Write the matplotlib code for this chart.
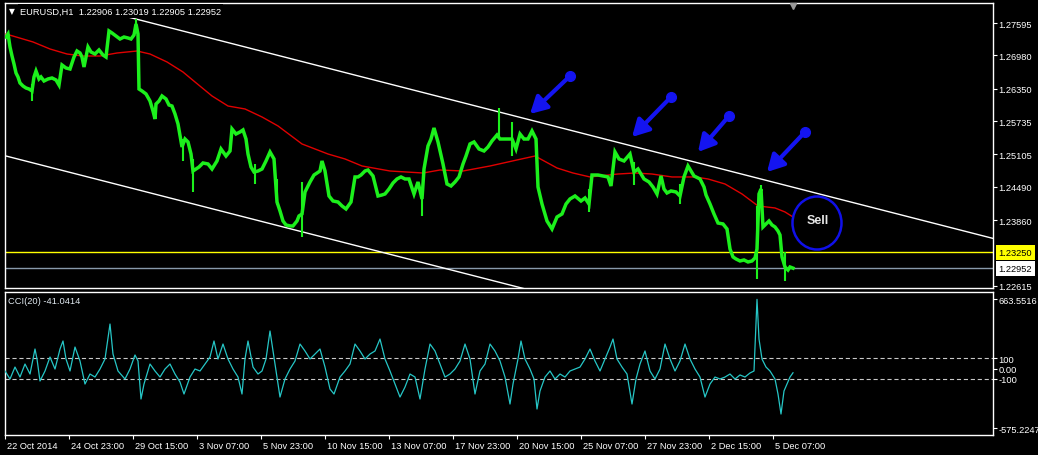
import matplotlib
matplotlib.use('Agg')
import matplotlib.pyplot as plt
from matplotlib.patches import Ellipse, FancyArrowPatch
from matplotlib.transforms import ScaledTranslation, blended_transform_factory

plt.rcParams['font.family'] = ['Liberation Sans', 'DejaVu Sans']
plt.rcParams['lines.scale_dashes'] = False

# ---------------- data ----------------
symbol_title = "EURUSD,H1  1.22906 1.23019 1.22905 1.22952"
cci_title = "CCI(20) -41.0414"

price_hours = [6, 8, 10, 12, 14, 16, 18, 20, 23, 26, 29, 32, 34, 36, 39, 41, 44, 48, 52, 56,
               59, 62, 66, 70, 74, 77, 80, 82, 84, 86, 88, 91, 95, 99, 103, 106, 109, 112, 116, 120,
               124, 128, 131, 134, 136, 138, 139, 142, 146, 150, 153, 155, 156, 159, 162, 166, 169, 172, 175, 178,
               182, 185, 188, 191, 193, 196, 199, 203, 208, 212, 217, 221, 226, 230, 232, 236, 240, 243, 246, 248,
               251, 254, 258, 262, 266, 270, 274, 277, 280, 283, 286, 290, 293, 297, 299, 302, 305, 310, 314, 317,
               320, 322, 325, 329, 333, 338, 342, 346, 351, 355, 358, 361, 365, 368, 373, 378, 382, 385, 389, 393,
               397, 401, 405, 409, 414, 418, 422, 424, 428, 431, 434, 438, 443, 447, 451, 455, 459, 463, 466, 470,
               474, 479, 484, 488, 492, 497, 500, 504, 508, 512, 516, 520, 524, 528, 532, 536, 538, 542, 547, 552,
               557, 562, 566, 570, 575, 581, 585, 589, 592, 598, 603, 608, 611, 615, 619, 624, 630, 634, 638, 644,
               649, 653, 657, 661, 664, 667, 671, 676, 680, 684, 688, 691, 694, 700, 704, 706, 710, 714, 718, 723,
               727, 730, 733, 736, 740, 744, 748, 752, 755, 757, 759, 761, 763, 766, 769, 772, 775, 778, 780, 782,
               785, 788, 790, 793]
price_close = [1.27330, 1.27387, 1.27141, 1.26970, 1.26819, 1.26648, 1.26573, 1.26459, 1.26402, 1.26364,
               1.26345, 1.26308, 1.26573, 1.26686, 1.26535, 1.26573, 1.26497, 1.26535, 1.26554, 1.26516,
               1.26421, 1.26800, 1.26743, 1.26724, 1.26951, 1.27065, 1.27027, 1.26951, 1.26762, 1.26951,
               1.27141, 1.27046, 1.27008, 1.27084, 1.26989, 1.26951, 1.27444, 1.27406, 1.27349, 1.27292,
               1.27330, 1.27311, 1.27292, 1.27368, 1.27577, 1.27387, 1.26345, 1.26308, 1.26251, 1.26118,
               1.25929, 1.25777, 1.26061, 1.26118, 1.26213, 1.26156, 1.26042, 1.26023, 1.25872, 1.25683,
               1.25247, 1.25398, 1.25342, 1.25114, 1.24792, 1.24830, 1.24868, 1.24944, 1.24925, 1.24830,
               1.24982, 1.25209, 1.25076, 1.25171, 1.25588, 1.25493, 1.25531, 1.25569, 1.25398, 1.25114,
               1.24868, 1.24773, 1.24792, 1.24830, 1.24982, 1.25152, 1.25020, 1.24205, 1.24035, 1.23845,
               1.23770, 1.23751, 1.23751, 1.23845, 1.23940, 1.23978, 1.24395, 1.24584, 1.24716, 1.24754,
               1.24792, 1.24982, 1.24792, 1.24319, 1.24224, 1.24205, 1.24130, 1.24073, 1.24205, 1.24679,
               1.24679, 1.24716, 1.24792, 1.24811, 1.24698, 1.24319, 1.24338, 1.24357, 1.24451, 1.24565,
               1.24641, 1.24679, 1.24641, 1.24641, 1.24357, 1.24584, 1.24262, 1.24830, 1.25266, 1.25398,
               1.25607, 1.25342, 1.24925, 1.24546, 1.24508, 1.24584, 1.24679, 1.24925, 1.25076, 1.25304,
               1.25342, 1.25209, 1.25171, 1.25247, 1.25361, 1.25474, 1.25398, 1.25398, 1.25398, 1.25398,
               1.25209, 1.25493, 1.25398, 1.25398, 1.25550, 1.25398, 1.24489, 1.24167, 1.23845, 1.23694,
               1.23921, 1.23978, 1.24167, 1.24262, 1.24319, 1.24224, 1.24281, 1.24167, 1.24716, 1.24716,
               1.24698, 1.24679, 1.24508, 1.25152, 1.25020, 1.24982, 1.25114, 1.24773, 1.24830, 1.24641,
               1.24584, 1.24489, 1.24357, 1.24698, 1.24451, 1.24376, 1.24414, 1.24395, 1.24319, 1.24679,
               1.24887, 1.24792, 1.24698, 1.24641, 1.24489, 1.24338, 1.24167, 1.23978, 1.23807, 1.23789,
               1.23694, 1.23315, 1.23164, 1.23126, 1.23088, 1.23107, 1.23069, 1.23088, 1.23145, 1.23315,
               1.24357, 1.24451, 1.23732, 1.23789, 1.23845, 1.23770, 1.23732, 1.23656, 1.23580, 1.23164,
               1.22974, 1.22917, 1.22974, 1.22952]

wick_hours = [32, 136, 183, 193, 255, 277, 302, 422, 499, 512, 589, 634, 680, 757, 761, 785]
wick_high = [1.26440, 1.27671, 1.25398, 1.25020, 1.24925, 1.24641, 1.24584, 1.24451, 1.25986, 1.25720,
             1.24451, 1.24963, 1.24546, 1.24130, 1.24527, 1.23258]
wick_low = [1.26118, 1.27444, 1.24982, 1.24395, 1.24546, 1.24148, 1.23542, 1.23940, 1.25398, 1.25076,
            1.24016, 1.24527, 1.24167, 1.22747, 1.24262, 1.22709]

ma_hours = [6, 33, 50, 67, 83, 100, 117, 137, 150, 167, 183, 195, 212, 228, 245, 262, 278, 302, 328, 345,
            362, 390, 423, 440, 463, 490, 517, 535, 557, 573, 590, 618, 635, 652, 672, 695, 708, 725, 742, 758,
            775, 785, 793]
ma_values = [1.27387, 1.27236, 1.27103, 1.27008, 1.26970, 1.26970, 1.27027, 1.27065, 1.27008, 1.26857,
             1.26667, 1.26478, 1.26213, 1.26023, 1.25967, 1.25815, 1.25645, 1.25304, 1.25114, 1.25020,
             1.24887, 1.24792, 1.24754, 1.24811, 1.24792, 1.24887, 1.25001, 1.25076, 1.24849, 1.24754,
             1.24679, 1.24735, 1.24754, 1.24735, 1.24679, 1.24679, 1.24641, 1.24546, 1.24357, 1.24130,
             1.24092, 1.24016, 1.23921]

cci_hours = [5, 10, 15, 20, 25, 30, 35, 37, 40, 45, 50, 55, 60, 63, 66, 70, 75, 80, 85, 90,
             95, 100, 105, 110, 113, 118, 125, 130, 135, 138, 141, 144, 150, 155, 160, 165, 170, 175, 180, 184,
             190, 195, 200, 205, 210, 214, 218, 223, 228, 233, 238, 242, 245, 248, 253, 258, 262, 266, 270, 275,
             280, 285, 290, 295, 300, 305, 310, 315, 320, 325, 330, 334, 340, 345, 350, 355, 360, 365, 370, 375,
             380, 385, 390, 395, 400, 405, 410, 415, 420, 425, 430, 435, 440, 445, 450, 455, 460, 465, 470, 475,
             480, 485, 490, 495, 500, 505, 510, 513, 518, 521, 525, 530, 534, 537, 540, 545, 550, 555, 560, 565,
             570, 575, 580, 585, 590, 595, 600, 605, 610, 613, 617, 622, 627, 632, 636, 640, 645, 650, 655, 660,
             665, 670, 675, 680, 685, 690, 695, 700, 705, 710, 715, 720, 725, 730, 735, 740, 745, 750, 754, 757,
             759, 762, 766, 770, 775, 778, 781, 784, 787, 790, 793]
cci_values = [-24, -101, 14, -82, 43, -53, 187, 91, -120, -24, 110, -5, 187, 264, 91, -24, 206, 72, -149, -53,
              -82, -5, 91, 427, 139, -24, -101, -5, 130, 72, -293, -149, 43, -24, -82, -5, 43, -53, -130, -245,
              -82, -5, -24, 43, 110, 264, 91, 235, 91, -5, -82, -245, 91, 264, 14, -53, -24, 91, 360, 43,
              -274, -101, -5, 72, 235, 168, 91, 139, 187, 14, -197, -245, -82, -24, 43, 235, 168, 91, 139, 168,
              283, 91, -24, -149, -274, -178, -53, -82, -293, -5, 235, 168, 43, -82, -53, -5, 72, 235, 91, -245,
              -24, 43, 235, 168, 72, -82, -341, -149, 91, 264, 91, -5, -101, -389, -216, -82, -24, -101, -53, -82,
              -24, -5, 14, 91, 187, 72, -24, 91, 206, 283, 91, 14, -53, -341, -101, 43, 168, -24, -101, -5,
              235, 91, -24, 72, 235, 91, -5, -82, -274, -149, -82, -101, -82, -53, -101, -62, -82, -43, -24, 663.55,
              283, 91, 14, -24, -101, -245, -437, -216, -149, -82, -41.04]

time_ticks = [5, 69, 133, 197, 261, 325, 389, 453, 517, 581, 645, 709, 773]
time_labels = ["22 Oct 2014", "24 Oct 23:00", "29 Oct 15:00", "3 Nov 07:00", "5 Nov 23:00",
               "10 Nov 15:00", "13 Nov 07:00", "17 Nov 23:00", "20 Nov 15:00", "25 Nov 07:00",
               "27 Nov 23:00", "2 Dec 15:00", "5 Dec 07:00"]
price_ticks = [1.27595, 1.26980, 1.26350, 1.25735, 1.25105, 1.24490, 1.23860, 1.22615]
cci_ticks = [663.5516, 100, 0, -100, -575.2247]
cci_tick_labels = ["663.5516", "100", "0.00", "-100", "-575.2247"]
cci_levels = [100, -100]

level_price = 1.23250
bid_price = 1.22952

# channel trend lines: anchor points (hour, price)
upper_anchor = [(128, 1.27709), (800, 1.24451)]
lower_anchor = (6, 1.25076)

# arrows (tail hour, tail price, tip hour, tip price)
arrows = [(570, 1.26592, 530, 1.25872),
          (671, 1.26194, 632, 1.25436),
          (729, 1.25834, 698, 1.25152),
          (805, 1.25531, 767, 1.24773)]
sell_center = (817, 1.23807)
sell_size = (49, 0.01004)

# ---------------- figure ----------------
W, H = 1038, 456
fig = plt.figure(figsize=(W / 100, H / 100), dpi=100, facecolor='black')


def rect(l, t, r, b):
    return [l / W, 1 - b / H, (r - l) / W, (b - t) / H]


ax = fig.add_axes(rect(5, 4, 993, 289))
ax2 = fig.add_axes(rect(5, 293, 993, 436))

FS = 6.7
XMIN, XMAX = 5, 993
for a in (ax, ax2):
    a.set_facecolor('black')
    for s in a.spines.values():
        s.set_color('white')
        s.set_linewidth(1)
    a.set_xlim(XMIN, XMAX)
    a.yaxis.tick_right()
    a.tick_params(axis='y', colors='white', labelcolor='white', length=3, width=0.8,
                  pad=1.0, labelsize=FS, direction='out')

ax.set_ylim(1.22576, 1.27974)
ax2.set_ylim(-638.4, 734.4)

# price main panel
ax.set_xticks([])
ax.set_yticks(price_ticks)
ax.set_yticklabels([f"{p:.5f}" for p in price_ticks])

green = '#1cf01c'
ax.plot(price_hours, price_close, color=green, lw=2.5, solid_joinstyle='miter', zorder=4)
ax.vlines(wick_hours, wick_low, wick_high, color=green, lw=1.5, zorder=4)
ax.plot(ma_hours, ma_values, color='#e00000', lw=1.0, zorder=3)

# horizontal lines
ax.axhline(level_price, color='#ffff00', lw=1.0, zorder=2)
ax.axhline(bid_price, color='#8899aa', lw=1.0, zorder=2)

# channel
(x1, y1), (x2, y2) = upper_anchor
slope = (y2 - y1) / (x2 - x1)
ax.plot([XMIN, XMAX], [y1 + slope * (XMIN - x1), y1 + slope * (XMAX - x1)], color='white', lw=1.0, zorder=2)
lx, ly = lower_anchor
ax.plot([lx, XMAX], [ly, ly + slope * (XMAX - lx)], color='white', lw=1.0, zorder=2)

# arrows
blue = '#1414f0'
for tx, ty, hx, hy in arrows:
    arr = FancyArrowPatch((tx, ty), (hx, hy), arrowstyle='-|>,head_length=10,head_width=5.5',
                          mutation_scale=1, lw=3, color=blue, shrinkA=0, shrinkB=0, zorder=6)
    ax.add_patch(arr)
    ax.plot([tx], [ty], 'o', ms=7, color=blue, zorder=6)

# sell circle
ax.add_patch(Ellipse(sell_center, sell_size[0], sell_size[1], facecolor='black',
                     edgecolor='#1010e8', lw=1.8, zorder=6))
ax.text(sell_center[0] + 1, sell_center[1] + 0.0005, 'Sell', color='#e6e6e6', fontsize=9,
        fontweight='bold', ha='center', va='center', zorder=7)

# shift marker
ax.plot([793], [1.27917], marker='v', ms=5, color='#9a9a9a', clip_on=False, zorder=8)

# level labels on the price scale
bt = blended_transform_factory(ax.transAxes, ax.transData)
ax.text(1.0058, level_price, f"{level_price:.5f}", transform=bt, color='black', fontsize=FS,
        va='center', ha='left', clip_on=False,
        bbox=dict(facecolor='#ffff00', edgecolor='none', pad=2.2))
ax.text(1.0058, bid_price, f"{bid_price:.5f}", transform=bt, color='black', fontsize=FS,
        va='center', ha='left', clip_on=False,
        bbox=dict(facecolor='white', edgecolor='none', pad=2.2))

# CCI panel
ax2.plot(cci_hours, cci_values, color='#26c6c6', lw=0.9, zorder=3)
for lv in cci_levels:
    ax2.axhline(lv, color='#c8c8c8', lw=0.8, linestyle=(0, (3, 2)), zorder=2)
ax2.set_yticks(cci_ticks)
ax2.set_yticklabels(cci_tick_labels)
ax2.set_xticks(time_ticks)
ax2.set_xticklabels(time_labels)
ax2.tick_params(axis='x', colors='white', labelcolor='white', length=3, width=0.8, pad=1.5,
                labelsize=FS, direction='out')
off = ScaledTranslation(1.5 / 72, 0, fig.dpi_scale_trans)
for lbl in ax2.get_xticklabels():
    lbl.set_ha('left')
    lbl.set_transform(lbl.get_transform() + off)

# titles
fig.text(9 / W, 1 - 12 / H, '\u25bc', color='white', fontsize=5.5, va='center', ha='left',
         family='DejaVu Sans')
fig.text(20 / W, 1 - 12 / H, symbol_title, color='white', fontsize=6.7, va='center', ha='left',
         bbox=dict(facecolor='black', edgecolor='none', pad=1.5))
fig.text(8 / W, 1 - 302 / H, cci_title, color='#dfe8ef', fontsize=FS, va='center', ha='left')

fig.savefig('out.png', dpi=100, facecolor='black')
